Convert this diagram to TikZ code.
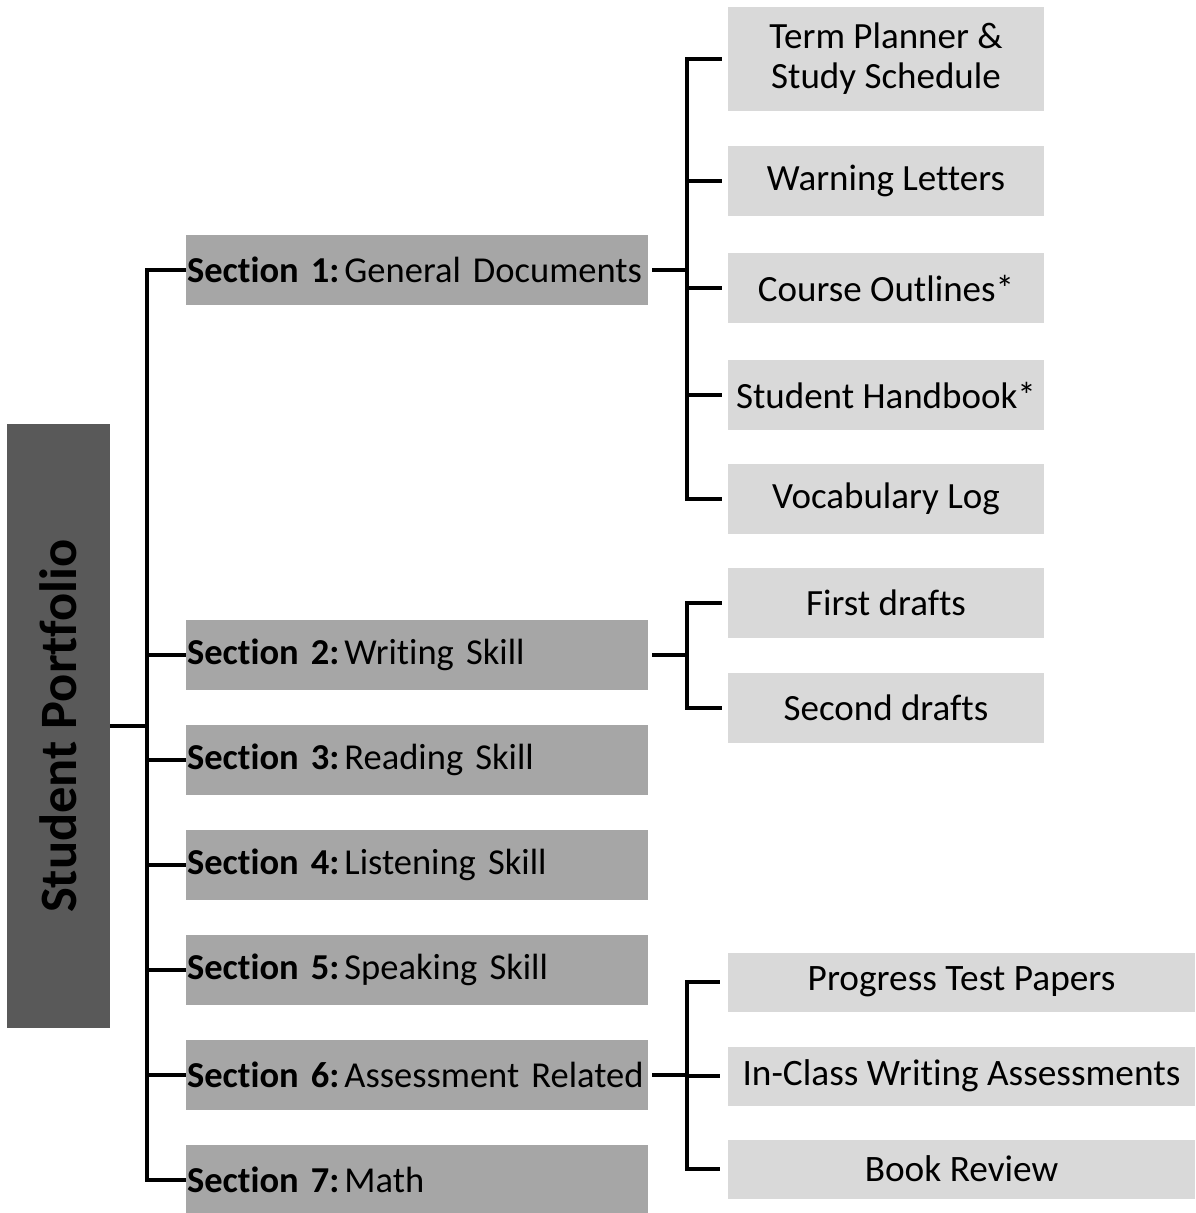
\documentclass[tikz,border=0pt]{standalone}
\usepackage{fontspec}
\setmainfont[Ligatures={NoCommon}]{Carlito}
\frenchspacing
\definecolor{rootgray}{HTML}{595959}
\definecolor{secgray}{HTML}{A6A6A6}
\definecolor{itemgray}{HTML}{D9D9D9}
\newcommand{\sect}[2]{\mbox{\textbf{Section #1:}\hspace{5pt}#2}}
\begin{document}
\begin{tikzpicture}[x=1pt,y=-1pt,
  conn/.style={line width=4.2pt, black},
  rootbox/.style={fill=rootgray, minimum width=103pt, minimum height=604pt, inner sep=0pt},
  secbox/.style={fill=secgray, minimum width=462pt, minimum height=70pt, text width=460pt, align=left, inner xsep=1pt, inner ysep=0pt, font=\fontsize{36.5}{43}\selectfont},
  itembox/.style={fill=itemgray, minimum width=316pt, minimum height=70pt, align=center, inner sep=0pt, font=\fontsize{37}{40}\selectfont},
  widebox/.style={fill=itemgray, minimum width=467pt, minimum height=59pt, align=center, inner sep=0pt, font=\fontsize{37.3}{40}\selectfont}
]
\useasboundingbox (0,0) rectangle (1195,1213);
% root
\node[rootbox] (root) at (58.5,726) {};
\node[rotate=90, font=\fontsize{52.5}{60}\selectfont\bfseries] (roottext) at (root.center) {Student Portfolio};
% sections
\node[secbox] (s1) at (417,270) {\sect{1}{General Documents}};
\node[secbox] (s2) at (417,655) {\sect{2}{Writing Skill}};
\node[secbox] (s3) at (417,760) {\sect{3}{Reading Skill}};
\node[secbox] (s4) at (417,865) {\sect{4}{Listening Skill}};
\node[secbox] (s5) at (417,970) {\sect{5}{Speaking Skill}};
\node[secbox] (s6) at (417,1075) {\sect{6}{Assessment Related}};
\node[secbox] (s7) at (417,1180) {\sect{7}{Math}};
% group 1
\node[itembox, minimum height=104pt] (t1) at (886,59) {Term Planner \&\\Study Schedule};
\node[itembox] (t2) at (886,181) {Warning Letters};
\node[itembox] (t3) at (886,288) {Course Outlines*};
\node[itembox] (t4) at (886,395) {Student Handbook*};
\node[itembox] (t5) at (886,499) {Vocabulary Log};
% group 2
\node[itembox] (w1) at (886,603) {First drafts};
\node[itembox] (w2) at (886,708) {Second drafts};
% group 3
\node[widebox] (a1) at (961.5,982) {Progress Test Papers};
\node[widebox] (a2) at (961.5,1076) {In-Class Writing Assessments};
\node[widebox] (a3) at (961.5,1169) {Book Review};
% coordinates for bracket columns
\coordinate (tk) at (147,0);
\coordinate (b1) at (687,0);
% trunk
\draw[conn] (s1.west) -- (s1.west -| tk) -- (s7.west -| tk) -- (s7.west);
\foreach \s in {s2,s3,s4,s5,s6} \draw[conn] (\s.west) -- (\s.west -| tk);
\draw[conn] (root.east) -- (root.east -| tk);
% group 1 bracket
\draw[conn] ([xshift=4pt]s1.east) -- (s1.east -| b1);
\draw[conn] ([xshift=-6pt]t1.west) -- (t1.west -| b1) -- (t5.west -| b1) -- ([xshift=-6pt]t5.west);
\foreach \t in {t2,t3,t4} \draw[conn] ([xshift=-6pt]\t.west) -- (\t.west -| b1);
% group 2 bracket
\draw[conn] ([xshift=4pt]s2.east) -- (s2.east -| b1);
\draw[conn] ([xshift=-6pt]w1.west) -- (w1.west -| b1) -- (w2.west -| b1) -- ([xshift=-6pt]w2.west);
% group 3 bracket
\draw[conn] ([xshift=4pt]s6.east) -- (s6.east -| b1);
\draw[conn] ([xshift=-8pt]a1.west) -- (a1.west -| b1) -- (a3.west -| b1) -- ([xshift=-8pt]a3.west);
\draw[conn] ([xshift=-8pt]a2.west) -- (a2.west -| b1);
\end{tikzpicture}
\end{document}
